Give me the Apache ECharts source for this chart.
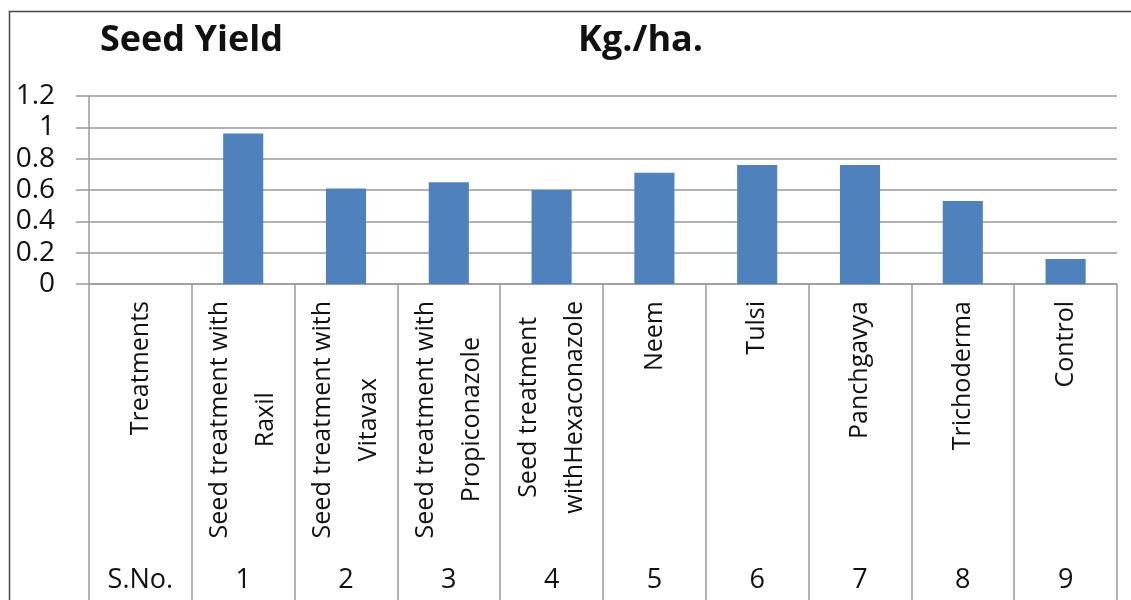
<!DOCTYPE html>
<html>
<head>
<meta charset="utf-8">
<title>Seed Yield Kg./ha.</title>
<script src="https://cdn.jsdelivr.net/npm/echarts@6/dist/echarts.min.js"></script>
<style>
  html, body { margin: 0; padding: 0; background: #ffffff; }
  #chart { width: 1131px; height: 600px; }
</style>
</head>
<body>
<div id="chart"></div>
<script>
// Treatment names (table header row first), serial numbers and seed yield in Kg./ha.
const treatments = [
  'Treatments',
  'Seed treatment with\nRaxil',
  'Seed treatment with\nVitavax',
  'Seed treatment with\nPropiconazole',
  'Seed treatment\nwithHexaconazole',
  'Neem',
  'Tulsi',
  'Panchgavya',
  'Trichoderma',
  'Control'
];
const serialNumbers = ['S.No.', '1', '2', '3', '4', '5', '6', '7', '8', '9'];
const seedYield = ['-', 0.96, 0.61, 0.65, 0.60, 0.71, 0.76, 0.76, 0.53, 0.16];
const yTicks = { min: 0, max: 1.2, step: 0.2 };

const FONT = '"Open Sans", "Noto Sans", sans-serif';
const TEXT = '#111111';
const LINE = '#9a9a9a';

const chart = echarts.init(document.getElementById('chart'));

chart.setOption({
  animation: false,
  backgroundColor: '#ffffff',
  graphic: [
    {
      type: 'rect',
      left: 7, top: 9,
      shape: { width: 1200, height: 700 },
      style: { fill: 'none', stroke: '#444444', lineWidth: 1.5 },
      silent: true
    },
    {
      type: 'text',
      x: 100, y: 41,
      style: {
        text: 'Seed Yield',
        font: 'bold 36px ' + FONT,
        fill: TEXT,
        textAlign: 'left',
        textVerticalAlign: 'middle'
      }
    },
    {
      type: 'text',
      x: 578, y: 41,
      style: {
        text: 'Kg./ha.',
        font: 'bold 36px ' + FONT,
        fill: TEXT,
        textAlign: 'left',
        textVerticalAlign: 'middle'
      }
    }
  ],
  grid: {
    left: 89,
    right: 14,
    top: 96,
    bottom: 316,
    containLabel: false,
    outerBoundsMode: 'none'
  },
  xAxis: [
    {
      type: 'category',
      data: treatments,
      position: 'bottom',
      axisLine: { show: true, lineStyle: { color: LINE, width: 1.5 } },
      axisTick: {
        show: true,
        interval: 0,
        alignWithLabel: false,
        length: 320,
        lineStyle: { color: LINE, width: 1.5 }
      },
      axisLabel: {
        interval: 0,
        rotate: 90,
        margin: 17,
        color: TEXT,
        fontFamily: FONT,
        fontSize: 25,
        formatter: function (value) {
          return value.split('\n').map(function (line) {
            return '{c|' + line + '}';
          }).join('\n');
        },
        rich: {
          c: {
            align: 'center',
            fontFamily: FONT,
            fontSize: 25,
            lineHeight: 46,
            color: TEXT
          }
        }
      },
      splitLine: { show: false }
    },
    {
      type: 'category',
      data: serialNumbers,
      position: 'bottom',
      offset: 283,
      axisLine: { show: false },
      axisTick: { show: false },
      axisLabel: {
        interval: 0,
        margin: 0,
        color: TEXT,
        fontFamily: FONT,
        fontSize: 27,
        lineHeight: 27
      },
      splitLine: { show: false }
    }
  ],
  yAxis: {
    type: 'value',
    min: yTicks.min,
    max: yTicks.max,
    interval: yTicks.step,
    axisLine: { show: true, lineStyle: { color: LINE, width: 1.5 } },
    axisTick: { show: true, length: 13, lineStyle: { color: LINE, width: 1.5 } },
    axisLabel: {
      margin: 34,
      color: TEXT,
      fontFamily: FONT,
      fontSize: 28,
      align: 'right'
    },
    splitLine: { show: true, lineStyle: { color: LINE, width: 1.5 } }
  },
  series: [
    {
      type: 'bar',
      name: 'Seed Yield',
      xAxisIndex: 0,
      data: seedYield,
      barWidth: '39%',
      itemStyle: { color: '#4f81bd' },
      silent: true
    }
  ]
});
</script>
</body>
</html>
